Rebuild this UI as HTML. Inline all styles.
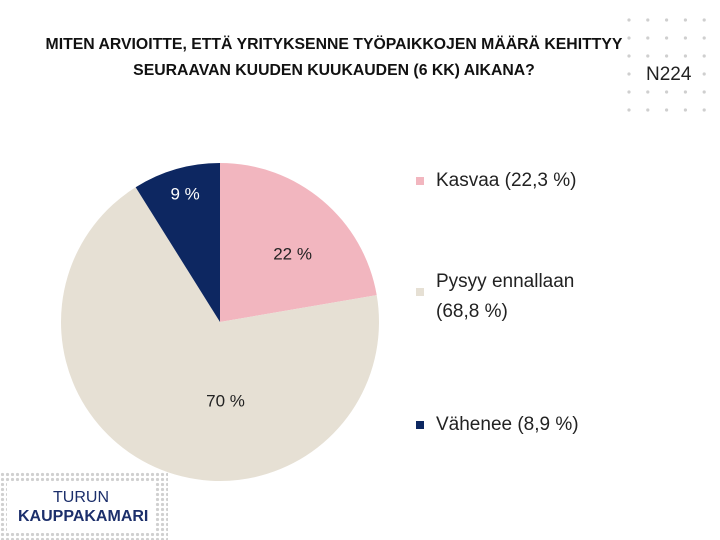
<!DOCTYPE html>
<html><head><meta charset="utf-8"><style>
body{margin:0;width:720px;height:540px;background:#fff;position:relative;overflow:hidden;font-family:"Liberation Sans",sans-serif}
.t{position:absolute;left:0;width:668px;text-align:center;font-weight:bold;font-size:15.8px;color:#111}
.leg{position:absolute;font-size:19px;color:#222;line-height:30px}
.sq{position:absolute;width:8px;height:8px}
</style></head><body>
<div class="t" style="top:36px">MITEN ARVIOITTE, ETTÄ YRITYKSENNE TYÖPAIKKOJEN MÄÄRÄ KEHITTYY</div>
<div class="t" style="top:62px">SEURAAVAN KUUDEN KUUKAUDEN (6 KK) AIKANA?</div>
<svg id="dots" width="720" height="540" style="position:absolute;left:0;top:0"></svg>
<div style="position:absolute;left:646px;top:64px;font-size:19px;color:#222;background:#fff">N224</div>
<svg id="pie" width="720" height="540" style="position:absolute;left:0;top:0"></svg>
<div class="sq" style="left:416px;top:177px;background:#f2b6bf"></div>
<div class="leg" style="left:436px;top:166px">Kasvaa (22,3 %)</div>
<div class="sq" style="left:416px;top:288px;background:#e6e0d4"></div>
<div class="leg" style="left:436px;top:267px">Pysyy ennallaan<br>(68,8 %)</div>
<div class="sq" style="left:416px;top:421px;background:#0d2761"></div>
<div class="leg" style="left:436px;top:410px">Vähenee (8,9 %)</div>
<div style="position:absolute;left:0;top:472px;width:168px;height:68px;background-image:radial-gradient(#d0d0d0 1.5px,transparent 1.8px);background-size:5px 5px"></div>
<div style="position:absolute;left:7px;top:483px;width:148px;height:50px;background:#fff;color:#1c2f6b">
<div style="position:absolute;left:46px;top:6px;font-size:16px">TURUN</div>
<div style="position:absolute;left:11px;top:25px;font-size:16px;font-weight:bold">KAUPPAKAMARI</div></div>
<script>
const categories=["Kasvaa","Pysyy ennallaan","Vähenee"];
const values=[22.3,68.8,8.9];
const labels=["22 %","70 %","9 %"];
const colors=["#f2b6bf","#e6e0d4","#0d2761"];
const textColors=["#222","#222","#fff"];
const NS="http://www.w3.org/2000/svg";
const d=document.getElementById('dots');
for(let r=0;r<6;r++)for(let c=0;c<5;c++){const e=document.createElementNS(NS,'circle');e.setAttribute('cx',629+c*18.8);e.setAttribute('cy',20+r*18);e.setAttribute('r',1.6);e.setAttribute('fill','#cfcfcf');

d.appendChild(e);}
const p=document.getElementById('pie');const cx=220,cy=322,R=159;
const labR=[0.63,0.5,0.84];const labShift=[[8,8],[38,6],[2,0]];
const tot=values.reduce((a,b)=>a+b,0);let a0=0;
values.forEach((v,i)=>{const a1=a0+v/tot*2*Math.PI;
const pt=a=>[cx+R*Math.sin(a),cy-R*Math.cos(a)];const [x0,y0]=pt(a0),[x1,y1]=pt(a1);
const path=document.createElementNS(NS,'path');
path.setAttribute('d',`M${cx},${cy}L${x0},${y0}A${R},${R} 0 ${a1-a0>Math.PI?1:0} 1 ${x1},${y1}Z`);
path.setAttribute('fill',colors[i]);

p.appendChild(path);
const am=(a0+a1)/2,lr=R*labR[i];const t=document.createElementNS(NS,'text');
t.setAttribute('x',cx+lr*Math.sin(am)+labShift[i][0]);t.setAttribute('y',cy-lr*Math.cos(am)+6+labShift[i][1]);
t.setAttribute('text-anchor','middle');t.setAttribute('font-size','17');t.setAttribute('fill',textColors[i]);
t.setAttribute('font-family','Liberation Sans, sans-serif');t.textContent=labels[i];

p.appendChild(t);a0=a1;});
</script>
</body></html>
